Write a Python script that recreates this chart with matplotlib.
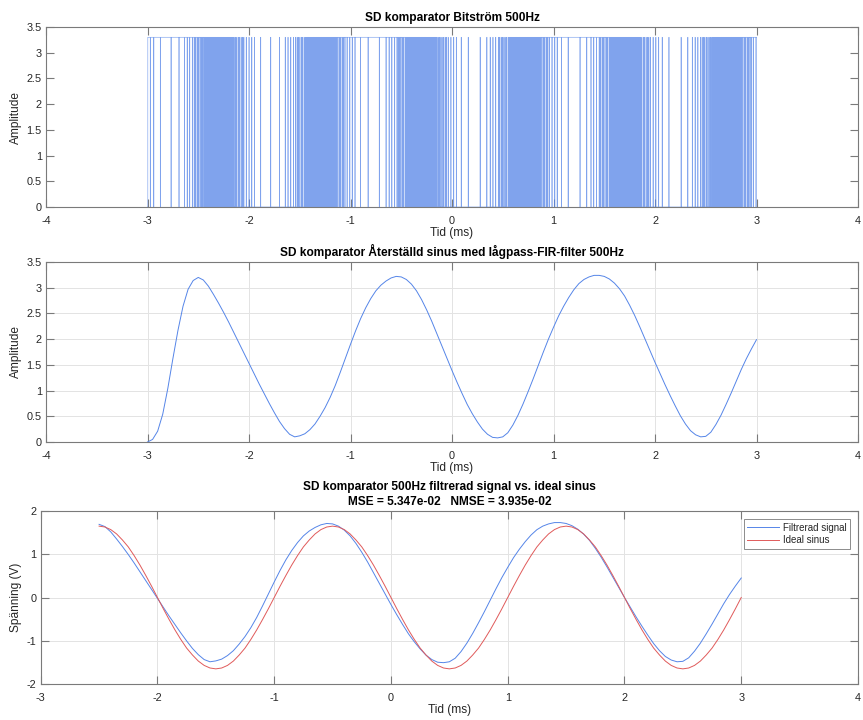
import numpy as np
import matplotlib
matplotlib.use("Agg")
import matplotlib.pyplot as plt

plt.rcParams["font.family"] = ["Liberation Sans", "DejaVu Sans"]
plt.rcParams["axes.unicode_minus"] = False

# ---- data -------------------------------------------------------------
# comparator input level (V), 0.1 ms steps from -3.0 to 3.0 ms
comparator_in = [
    2.93, 3.15, 3.23, 3.15, 2.93, 2.58, 2.14, 1.65, 1.16, 0.72,
    0.37, 0.15, 0.07, 0.15, 0.37, 0.72, 1.16, 1.65, 2.14, 2.58,
    2.93, 3.15, 3.23, 3.15, 2.93, 2.58, 2.14, 1.65, 1.16, 0.72,
    0.37, 0.15, 0.07, 0.15, 0.37, 0.72, 1.16, 1.65, 2.14, 2.58,
    2.93, 3.15, 3.23, 3.15, 2.93, 2.58, 2.14, 1.65, 1.16, 0.72,
    0.37, 0.15, 0.07, 0.15, 0.37, 0.72, 1.16, 1.65, 2.14, 2.58,
    2.93,
]
vdd = 3.3
bit_period_ms = 0.003

# FIR-filtered output (V), 0.05 ms steps from -3.00 to 3.00 ms
filtered = [
    0.00, 0.05, 0.21, 0.54, 1.04, 1.62, 2.17, 2.64, 2.97, 3.14,   # -3.00
    3.20, 3.15, 3.03, 2.87, 2.70, 2.52, 2.33, 2.13, 1.93, 1.73,   # -2.50
    1.53, 1.33, 1.13, 0.94, 0.75, 0.57, 0.40, 0.26, 0.15, 0.10,   # -2.00
    0.12, 0.16, 0.24, 0.35, 0.50, 0.67, 0.87, 1.10, 1.36, 1.63,   # -1.50
    1.90, 2.16, 2.40, 2.61, 2.79, 2.94, 3.05, 3.13, 3.19, 3.22,   # -1.00
    3.21, 3.16, 3.07, 2.94, 2.77, 2.57, 2.35, 2.11, 1.87, 1.63,   # -0.50
    1.39, 1.16, 0.94, 0.73, 0.55, 0.39, 0.25, 0.15, 0.09, 0.08,   #  0.00
    0.10, 0.18, 0.33, 0.52, 0.74, 0.98, 1.23, 1.49, 1.75, 2.00,   #  0.50
    2.23, 2.45, 2.64, 2.81, 2.96, 3.08, 3.16, 3.21, 3.24, 3.24,   #  1.00
    3.22, 3.17, 3.09, 2.98, 2.84, 2.66, 2.46, 2.24, 2.01, 1.78,   #  1.50
    1.55, 1.33, 1.11, 0.90, 0.70, 0.51, 0.35, 0.22, 0.14, 0.10,   #  2.00
    0.11, 0.19, 0.34, 0.52, 0.73, 0.95, 1.18, 1.41, 1.62, 1.81,   #  2.50
    1.99,                                                         #  3.00
]
# DC level removed and gain applied before comparing with the ideal sine
filtered_dc = 1.55
filtered_gain = 1.025

# ideal reference sine (V), 0.05 ms steps from -2.50 to 3.00 ms
ideal = [
    1.65, 1.63, 1.57, 1.47, 1.33, 1.17, 0.97, 0.75, 0.51, 0.26,            # -2.50
    0.00, -0.26, -0.51, -0.75, -0.97, -1.17, -1.33, -1.47, -1.57, -1.63,   # -2.00
    -1.65, -1.63, -1.57, -1.47, -1.33, -1.17, -0.97, -0.75, -0.51, -0.26,  # -1.50
    0.00, 0.26, 0.51, 0.75, 0.97, 1.17, 1.33, 1.47, 1.57, 1.63,            # -1.00
    1.65, 1.63, 1.57, 1.47, 1.33, 1.17, 0.97, 0.75, 0.51, 0.26,            # -0.50
    0.00, -0.26, -0.51, -0.75, -0.97, -1.17, -1.33, -1.47, -1.57, -1.63,   #  0.00
    -1.65, -1.63, -1.57, -1.47, -1.33, -1.17, -0.97, -0.75, -0.51, -0.26,  #  0.50
    0.00, 0.26, 0.51, 0.75, 0.97, 1.17, 1.33, 1.47, 1.57, 1.63,            #  1.00
    1.65, 1.63, 1.57, 1.47, 1.33, 1.17, 0.97, 0.75, 0.51, 0.26,            #  1.50
    0.00, -0.26, -0.51, -0.75, -0.97, -1.17, -1.33, -1.47, -1.57, -1.63,   #  2.00
    -1.65, -1.63, -1.57, -1.47, -1.33, -1.17, -0.97, -0.75, -0.51, -0.26,  #  2.50
    0.00,                                                                  #  3.00
]

title1 = "SD komparator Bitström 500Hz"
title2 = "SD komparator Återställd sinus med lågpass-FIR-filter 500Hz"
title3 = ("SD komparator 500Hz filtrerad signal vs. ideal sinus\n"
          "MSE = 5.347e-02   NMSE = 3.935e-02")
legend_labels = ["Filtrerad signal", "Ideal sinus"]
amp_ticks = ["0", "0.5", "1", "1.5", "2", "2.5", "3", "3.5"]

# ---- signals ------------------------------------------------------------
t_filt = np.round(np.arange(len(filtered)) * 0.05 - 3.0, 3)
t_ideal = np.round(np.arange(len(ideal)) * 0.05 - 2.5, 3)

# first-order sigma-delta comparator producing the bit stream
n_bits = int(round(6.0 / bit_period_ms)) + 1
t_bits = -3.0 + np.arange(n_bits) * bit_period_ms
level_idx = np.clip(np.round((t_bits + 3.0) / 0.1).astype(int), 0, len(comparator_in) - 1)
levels = np.asarray(comparator_in)[level_idx]
bits = np.zeros(n_bits)
acc = 0.0
for i, x in enumerate(levels):
    b = 1.0 if acc > 0 else 0.0
    bits[i] = b
    acc += x / vdd - b
bitstream = bits * vdd

filtered = np.asarray(filtered)
mask = t_filt >= -2.5 - 1e-9
t_ac = t_filt[mask]
filtered_ac = (filtered[mask] - filtered_dc) * filtered_gain

# ---- styling ------------------------------------------------------------
blue = "#5585e8"
red = "#e05a5a"
txt = "#262626"
spine = "#7a7a7a"
grid_c = "#e3e3e3"
tick_fs = 7.8
label_fs = 8.6

fig = plt.figure(figsize=(8.63, 7.2), dpi=100)
W, H = 863, 720


def add_axes(left, top, right, bottom):
    return fig.add_axes([left / W, 1 - bottom / H, (right - left) / W, (bottom - top) / H])


def style(ax, grid):
    for s in ax.spines.values():
        s.set_color(spine)
        s.set_linewidth(0.8)
    ax.tick_params(direction="in", length=5.5, width=0.8, color=spine,
                   labelsize=tick_fs, labelcolor=txt, top=True, right=True)
    ax.tick_params(axis="x", pad=6.5)
    ax.tick_params(axis="y", pad=3)
    if grid:
        ax.grid(True, color=grid_c, linewidth=0.7)
        ax.set_axisbelow(True)


ax1 = add_axes(46, 27, 858, 207)
ax2 = add_axes(46, 262, 858, 442)
ax3 = add_axes(40.7, 511, 858, 684)

# bit stream
ax1.step(t_bits, bitstream, where="post", color=blue, linewidth=0.45, alpha=0.75)
ax1.set_xlim(-4, 4)
ax1.set_ylim(0, 3.5)
ax1.set_xticks(np.arange(-4, 5, 1))
ax1.set_yticks(np.arange(0, 3.51, 0.5))
ax1.set_yticklabels(amp_ticks)
style(ax1, grid=False)
ax1.set_title(title1, fontsize=label_fs, fontweight="bold", color="black", pad=4)
ax1.set_xlabel("Tid (ms)", fontsize=label_fs, color=txt, labelpad=1)
ax1.set_ylabel("Amplitude", fontsize=label_fs, color=txt)
ax1.yaxis.set_label_coords(-0.0296, 0.5)

# filtered output
ax2.plot(t_filt, filtered, color=blue, linewidth=0.7)
ax2.set_xlim(-4, 4)
ax2.set_ylim(0, 3.5)
ax2.set_xticks(np.arange(-4, 5, 1))
ax2.set_yticks(np.arange(0, 3.51, 0.5))
ax2.set_yticklabels(amp_ticks)
style(ax2, grid=True)
ax2.set_title(title2, fontsize=label_fs, fontweight="bold", color="black", pad=4)
ax2.set_xlabel("Tid (ms)", fontsize=label_fs, color=txt, labelpad=1)
ax2.set_ylabel("Amplitude", fontsize=label_fs, color=txt)
ax2.yaxis.set_label_coords(-0.0296, 0.5)

# filtered vs ideal
ax3.plot(t_ac, filtered_ac, color=blue, linewidth=0.7, label=legend_labels[0])
ax3.plot(t_ideal, ideal, color=red, linewidth=0.7, label=legend_labels[1])
ax3.set_xlim(-3, 4)
ax3.set_ylim(-2, 2)
ax3.set_xticks(np.arange(-3, 5, 1))
ax3.set_yticks(np.arange(-2, 3, 1))
style(ax3, grid=True)
ax3.set_title(title3, fontsize=label_fs, fontweight="bold", color="black",
              pad=4, linespacing=1.4)
ax3.set_xlabel("Tid (ms)", fontsize=label_fs, color=txt, labelpad=1)
ax3.set_ylabel("Spänning (V)", fontsize=label_fs, color=txt)
ax3.yaxis.set_label_coords(-0.0229, 0.5)
leg = ax3.legend(loc="upper right", bbox_to_anchor=(0.99, 0.952), fontsize=7,
                 handlelength=3.3, handletextpad=0.35, borderpad=0.35,
                 labelspacing=0.25, fancybox=False, framealpha=1,
                 edgecolor=spine, borderaxespad=0)
leg.get_frame().set_linewidth(0.6)
for t in leg.get_texts():
    t.set_color(txt)

fig.savefig("out.png", dpi=100)
